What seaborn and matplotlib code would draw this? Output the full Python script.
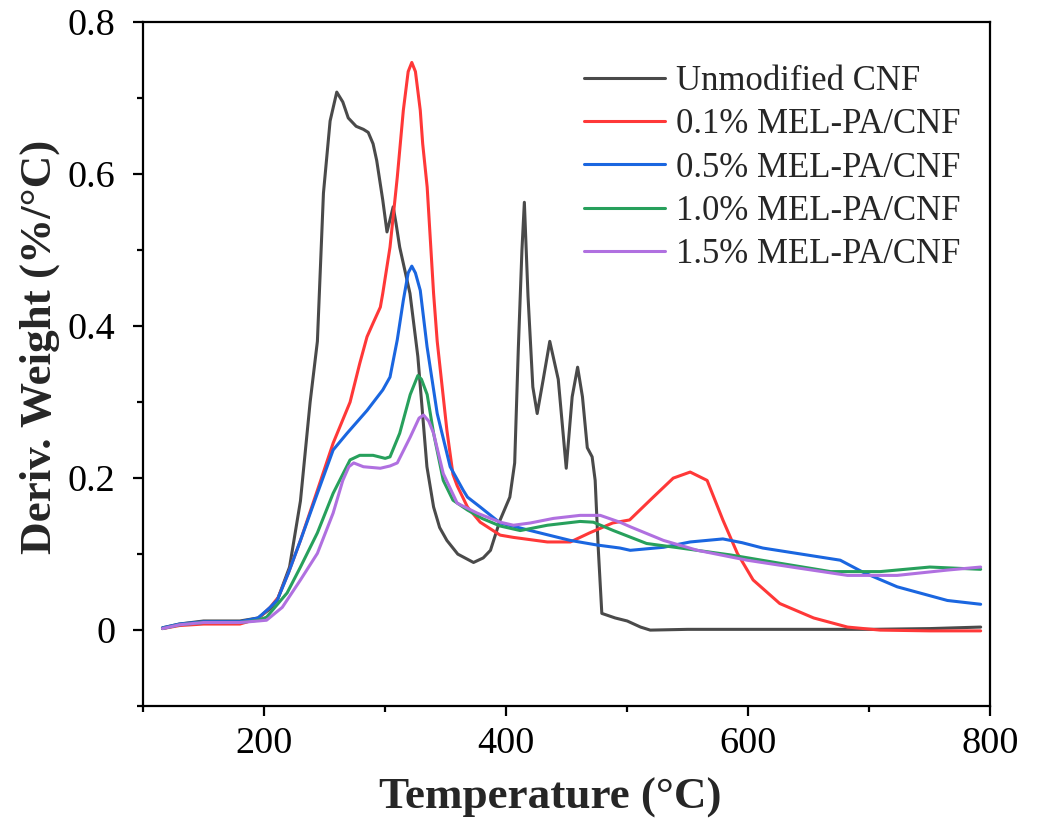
import numpy as np
import pandas as pd
import seaborn as sns
import matplotlib
matplotlib.use("Agg")
import matplotlib.pyplot as plt
from matplotlib.ticker import MultipleLocator, FuncFormatter

# DTG curves (temperature in C, deriv. weight in %/C)
t_cnf = [116, 130, 150, 165, 180, 195, 205, 211, 221, 230, 238, 244, 249, 254.5,
         260, 265, 269.5, 276, 282, 286, 290, 293, 298, 301.5, 304, 306.6, 309,
         312, 320.5, 327, 334.5, 340, 345, 351, 360, 373, 381, 387, 395, 403,
         407, 410, 413, 415, 418, 422, 425.6, 430.6, 436, 443, 449.6, 454.5,
         459, 463, 467, 471, 473.5, 476, 479, 490, 500, 511, 519, 550, 600,
         650, 700, 750, 792]
w_cnf = [0.003, 0.008, 0.012, 0.012, 0.012, 0.016, 0.028, 0.04, 0.083, 0.17,
         0.30, 0.38, 0.575, 0.67, 0.708, 0.695, 0.674, 0.663, 0.659, 0.655,
         0.64, 0.618, 0.566, 0.524, 0.54, 0.557, 0.535, 0.504, 0.443, 0.36,
         0.215, 0.162, 0.135, 0.118, 0.10, 0.089, 0.095, 0.105, 0.145, 0.175,
         0.22, 0.37, 0.50, 0.563, 0.44, 0.32, 0.285, 0.33, 0.38, 0.33, 0.213,
         0.307, 0.346, 0.307, 0.24, 0.228, 0.197, 0.109, 0.022, 0.016, 0.012,
         0.004, 0.0, 0.001, 0.001, 0.001, 0.001, 0.002, 0.004]

t_01 = [116, 130, 150, 180, 195, 205, 211.6, 220, 230, 244, 257, 271, 279, 285,
        290, 296, 298, 304, 310, 315, 319, 322, 325, 329, 331, 334.7, 340, 343,
        351, 356, 359.5, 368, 378.5, 395, 406, 434, 453, 469, 488, 502, 521.5,
        538, 552, 566, 579, 591, 604, 626, 654, 682, 709, 750, 792]
w_01 = [0.002, 0.006, 0.008, 0.008, 0.015, 0.03, 0.043, 0.075, 0.118, 0.184,
        0.246, 0.30, 0.351, 0.386, 0.404, 0.425, 0.443, 0.504, 0.596, 0.684,
        0.735, 0.747, 0.735, 0.684, 0.64, 0.583, 0.443, 0.38, 0.263, 0.205,
        0.19, 0.162, 0.142, 0.125, 0.122, 0.116, 0.116, 0.128, 0.141, 0.145,
        0.175, 0.20, 0.208, 0.197, 0.145, 0.101, 0.066, 0.035, 0.016, 0.004,
        0.0, -0.001, -0.001]

t_05 = [116, 130, 150, 180, 195, 205, 211, 220, 230, 244, 257, 268.5, 285, 298,
        304, 310, 315, 319, 322, 325, 329, 334.6, 343, 353.7, 364.5, 368, 378.5,
        395, 420, 453, 475, 494, 502.5, 530, 552, 579, 595, 612, 640, 676, 695,
        723, 764.5, 792]
w_05 = [0.003, 0.008, 0.011, 0.011, 0.016, 0.03, 0.04, 0.075, 0.118, 0.18,
        0.237, 0.259, 0.289, 0.316, 0.333, 0.382, 0.434, 0.47, 0.479, 0.47,
        0.447, 0.373, 0.285, 0.215, 0.184, 0.175, 0.162, 0.141, 0.131, 0.118,
        0.112, 0.108, 0.105, 0.109, 0.116, 0.12, 0.115, 0.108, 0.101, 0.092,
        0.076, 0.057, 0.039, 0.034]

t_10 = [116, 130, 150, 180, 195, 202, 219, 230, 244, 257, 271, 279, 290, 300,
        304, 312, 320.7, 327, 330, 334.7, 340, 348, 356, 368, 380, 395, 411.6,
        434, 461, 472, 488.6, 516, 544, 585, 626, 668, 709, 750, 792]
w_10 = [0.002, 0.007, 0.01, 0.01, 0.013, 0.017, 0.049, 0.083, 0.128, 0.18,
        0.224, 0.23, 0.23, 0.226, 0.228, 0.259, 0.31, 0.335, 0.33, 0.31, 0.259,
        0.197, 0.171, 0.158, 0.147, 0.137, 0.131, 0.138, 0.143, 0.142, 0.131,
        0.114, 0.108, 0.099, 0.088, 0.077, 0.077, 0.083, 0.08]

t_15 = [116, 130, 150, 180, 195, 202, 215, 230, 244, 257, 265, 270, 274, 282,
        296, 304, 310, 320.7, 328, 331.7, 336, 340, 348, 359.5, 376, 395, 406,
        420, 439, 461, 477.7, 494, 502.5, 530, 558, 599, 640, 682, 723, 764.5,
        792]
w_15 = [0.002, 0.007, 0.01, 0.01, 0.012, 0.013, 0.03, 0.066, 0.101, 0.154,
        0.197, 0.215, 0.22, 0.215, 0.213, 0.216, 0.22, 0.254, 0.279, 0.283,
        0.275, 0.259, 0.206, 0.167, 0.154, 0.142, 0.138, 0.141, 0.147, 0.151,
        0.151, 0.142, 0.136, 0.118, 0.105, 0.092, 0.082, 0.072, 0.072, 0.079,
        0.083]

labels = ["Unmodified CNF", "0.1% MEL-PA/CNF", "0.5% MEL-PA/CNF",
          "1.0% MEL-PA/CNF", "1.5% MEL-PA/CNF"]
colors = ["#4a4a4a", "#ff3838", "#1a66e0", "#27a05c", "#b070e0"]


def build_frame():
    """stack every curve into one long dataframe for seaborn"""
    temps = [t_cnf, t_01, t_05, t_10, t_15]
    weights = [w_cnf, w_01, w_05, w_10, w_15]
    parts = []
    for name, t, w in zip(labels, temps, weights):
        parts.append(pd.DataFrame({"Temperature": t, "Weight": w,
                                   "Sample": name}))
    return pd.concat(parts, ignore_index=True)


def main():
    sns.set_theme(style="ticks")
    plt.rcParams["font.family"] = ["Liberation Serif", "DejaVu Serif"]

    df = build_frame()
    fig = plt.figure(figsize=(10.37, 8.22), dpi=100)
    ax = fig.add_axes([0.138, 0.141, 0.817, 0.832])

    sns.lineplot(data=df, x="Temperature", y="Weight", hue="Sample",
                 hue_order=labels, palette=colors, estimator=None,
                 linewidth=2.2, ax=ax)

    ax.set_xlim(100, 800)
    ax.set_ylim(-0.1, 0.8)
    ax.xaxis.set_major_locator(MultipleLocator(200))
    ax.xaxis.set_minor_locator(MultipleLocator(100))
    ax.yaxis.set_major_locator(MultipleLocator(0.2))
    ax.yaxis.set_minor_locator(MultipleLocator(0.1))
    ax.yaxis.set_major_formatter(FuncFormatter(lambda v, p: f"{v:g}"))

    for side in ax.spines.values():
        side.set_linewidth(1.6)
        side.set_color("black")
    ax.tick_params(which="major", length=7, width=1.6, labelsize=27.5,
                   colors="black")
    ax.tick_params(axis="x", which="major", pad=8)
    ax.tick_params(axis="y", which="major", pad=13)
    ax.tick_params(which="minor", length=4, width=1.6, colors="black")

    ax.set_xlabel("Temperature (\u00b0C)", fontsize=32.5, fontweight="bold",
                  labelpad=10)
    ax.xaxis.set_label_coords(0.48, -0.105)
    ax.set_ylabel("Deriv. Weight (%/\u00b0C)", fontsize=32.5,
                  fontweight="bold")
    ax.yaxis.set_label_coords(-0.098, 0.525)

    handles, names = ax.get_legend_handles_labels()
    ax.legend(handles, names, loc="upper right",
              bbox_to_anchor=(0.981, 0.958), borderaxespad=0,
              frameon=False, fontsize=25, handlelength=2.35,
              handletextpad=0.3, labelspacing=0.3)

    fig.savefig("out.png", dpi=100)


if __name__ == "__main__":
    main()
